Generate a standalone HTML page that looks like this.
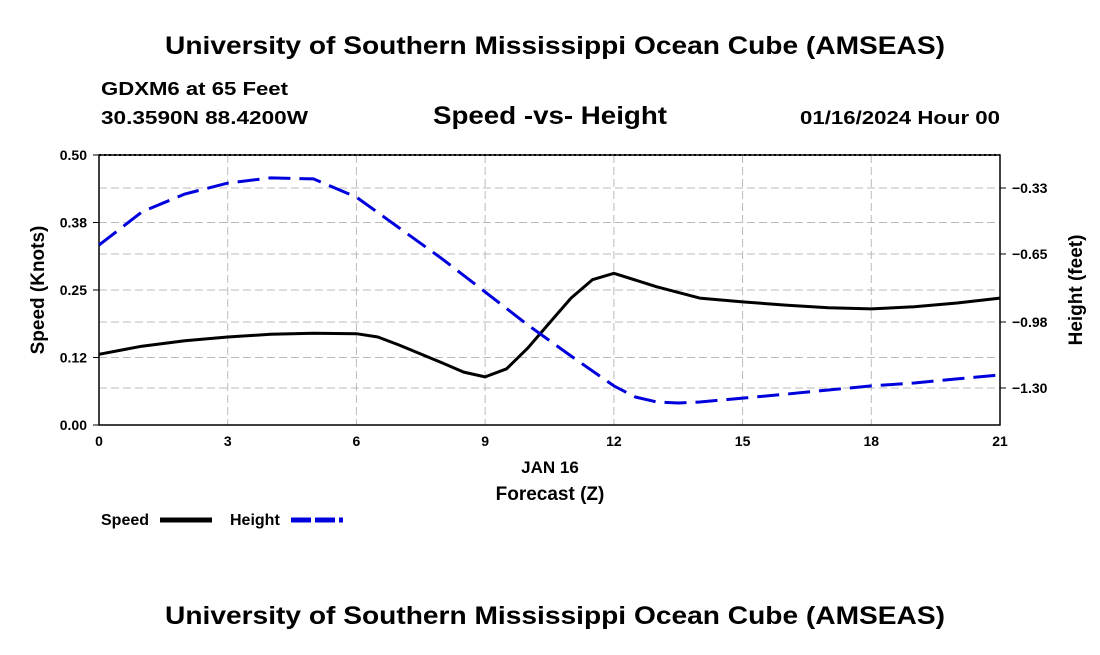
<!DOCTYPE html>
<html><head><meta charset="utf-8"><style>
body{margin:0;background:#fff;width:1100px;height:650px;overflow:hidden;font-family:"Liberation Sans",sans-serif}
svg text{font-family:"Liberation Sans",sans-serif;font-weight:bold;fill:#000}
</style></head><body>
<svg id="c" width="1100" height="650">
<text x="165" y="54" font-size="25" textLength="780" lengthAdjust="spacingAndGlyphs">University of Southern Mississippi Ocean Cube (AMSEAS)</text>
<text x="101" y="95" font-size="18" textLength="187" lengthAdjust="spacingAndGlyphs">GDXM6 at 65 Feet</text>
<text x="101" y="124" font-size="18" textLength="207" lengthAdjust="spacingAndGlyphs">30.3590N  88.4200W</text>
<text x="433" y="124" font-size="25" textLength="234" lengthAdjust="spacingAndGlyphs">Speed -vs- Height</text>
<text x="800" y="124" font-size="18" textLength="200" lengthAdjust="spacingAndGlyphs">01/16/2024 Hour 00</text>
<g id="grid"></g>
<rect x="99" y="155" width="901" height="270" fill="none" stroke="#000" stroke-width="1.5"/>
<g id="axes"></g>
<g id="series"></g>
<text x="550" y="473" font-size="17" text-anchor="middle">JAN 16</text>
<text x="550" y="500" font-size="19" text-anchor="middle">Forecast (Z)</text>
<text transform="translate(44,290) rotate(-90)" font-size="19" text-anchor="middle">Speed (Knots)</text>
<text transform="translate(1082,290) rotate(-90)" font-size="19" text-anchor="middle">Height (feet)</text>
<g><text x="101" y="525" font-size="16">Speed</text><line x1="160" y1="520" x2="212" y2="520" stroke="#000" stroke-width="5"/></g>
<g><text x="230" y="525" font-size="16">Height</text><line x1="291" y1="520" x2="343" y2="520" stroke="#0000dd" stroke-width="5" stroke-dasharray="20,4"/></g>
<text x="165" y="624" font-size="25" textLength="780" lengthAdjust="spacingAndGlyphs">University of Southern Mississippi Ocean Cube (AMSEAS)</text>
</svg>
<script>
const speedHours=[0,1,2,3,4,5,6,6.5,7,8,8.5,9,9.5,10,10.5,11,11.5,12,13,14,15,16,17,18,19,20,21];
const speedVals=[0.131,0.146,0.156,0.163,0.168,0.170,0.169,0.163,0.148,0.115,0.098,0.089,0.104,0.143,0.189,0.235,0.269,0.281,0.256,0.235,0.228,0.222,0.217,0.215,0.219,0.226,0.235];
const heightHours=[0,1,2,3,4,5,6,7,8,9,10,11,12,12.5,13,13.5,14,15,16,17,18,19,20,21];
const heightVals=[-0.607,-0.446,-0.359,-0.306,-0.281,-0.286,-0.374,-0.524,-0.674,-0.834,-0.995,-1.145,-1.29,-1.344,-1.368,-1.373,-1.368,-1.349,-1.33,-1.31,-1.29,-1.276,-1.256,-1.237];
const xTicks=[0,3,6,9,12,15,18,21];
const leftTicks=[0,0.125,0.25,0.375,0.5];
const leftLabels=["0.00","0.12","0.25","0.38","0.50"];
const rightTicks=[-0.33,-0.65,-0.98,-1.30];
const rightLabels=["-0.33","-0.65","-0.98","-1.30"];
const X0=99,X1=1000,Y0=425,Y1=155;
const xs=h=>X0+(h/21)*(X1-X0);
const ys=v=>Y0-(v/0.5)*(Y0-Y1);
const yh=v=>188+(-0.33-v)*67/0.325;
const NS="http://www.w3.org/2000/svg";
function mk(t,a,p){const e=document.createElementNS(NS,t);for(const k in a)e.setAttribute(k,a[k]);p.appendChild(e);return e;}
const G=document.getElementById('grid'),A=document.getElementById('axes'),S=document.getElementById('series');
xTicks.forEach(h=>{
 if(h>0&&h<21){const l=mk('line',{x1:xs(h),x2:xs(h),y1:Y1,y2:Y0,stroke:'#bbb','stroke-dasharray':'8,4'},G);
 
 }
 const t=mk('text',{x:xs(h),y:446,'font-size':14,'text-anchor':'middle'},A);t.textContent=h;
 
 
});
leftTicks.forEach((v,i)=>{
 if(i>0&&i<4){const l=mk('line',{x1:X0,x2:X1,y1:ys(v),y2:ys(v),stroke:'#bbb','stroke-dasharray':'8,4'},G);
 
 }
 mk('line',{x1:X0-6,x2:X0,y1:ys(v),y2:ys(v),stroke:'#000'},A);
 const t=mk('text',{x:X0-12,y:ys(v)+5,'font-size':14,'text-anchor':'end'},A);t.textContent=leftLabels[i];
 
 
});
rightTicks.forEach((v,i)=>{
 const l=mk('line',{x1:X0,x2:X1,y1:yh(v),y2:yh(v),stroke:'#bbb','stroke-dasharray':'8,4'},G);
 
 
 mk('line',{x1:X1,x2:X1+6,y1:yh(v),y2:yh(v),stroke:'#000'},A);
 const t=mk('text',{x:X1+12,y:yh(v)+5,'font-size':14},A);t.textContent=rightLabels[i].replace('-','\u2212');
 
 
});
mk('line',{x1:X0,x2:X1,y1:Y1,y2:Y1,stroke:'#000','stroke-dasharray':'2,3','stroke-width':2},A);
function path(hs,vs,f){return hs.map((h,i)=>(i?'L':'M')+xs(h).toFixed(1)+','+f(vs[i]).toFixed(1)).join('');}
const sp=mk('path',{d:path(speedHours,speedVals,ys),fill:'none',stroke:'#000','stroke-width':3,'stroke-linejoin':'round'},S);


const hp=mk('path',{d:path(heightHours,heightVals,yh),fill:'none',stroke:'#0000dd','stroke-width':3,'stroke-dasharray':'22,9'},S);


</script>
</body></html>
